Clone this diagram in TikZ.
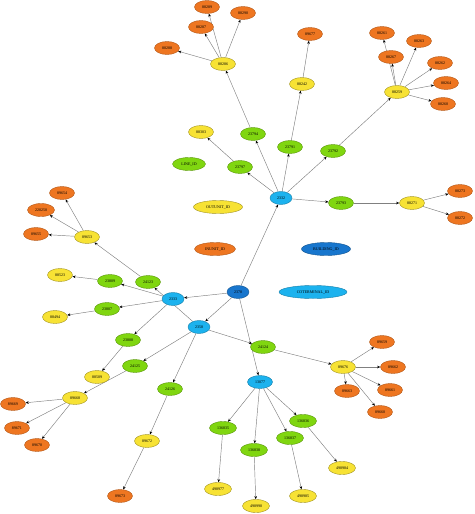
\documentclass[tikz,border=0pt]{standalone}
\usepackage{fontspec}
\setmainfont{Liberation Serif}
\usepackage{tikz}
\usetikzlibrary{arrows.meta,shapes.geometric,backgrounds}
\definecolor{NodeOrange}{RGB}{238,118,33}
\definecolor{NodeYellow}{RGB}{247,226,52}
\definecolor{NodeGreen}{RGB}{128,214,16}
\definecolor{NodeCyan}{RGB}{28,178,238}
\definecolor{NodeBlue}{RGB}{24,118,205}
\definecolor{EdgeGray}{RGB}{128,128,128}

\begin{document}
\begin{tikzpicture}[x=1pt, y=-1pt,
  nd/.style={ellipse, draw, inner sep=0pt, minimum width=25pt, minimum height=13pt,
    line width=0.4pt, font=\fontsize{4}{4}\selectfont},
  org/.style={nd, fill=NodeOrange, draw=NodeOrange!75!black},
  yel/.style={nd, fill=NodeYellow, draw=NodeYellow!65!black},
  grn/.style={nd, fill=NodeGreen, draw=NodeGreen!70!black},
  cyn/.style={nd, fill=NodeCyan, draw=NodeCyan!70!black},
  dblu/.style={nd, fill=NodeBlue, draw=NodeBlue!70!black},
  link/.style={draw=EdgeGray, line width=0.45pt, -{Stealth[length=3.2pt,width=2.6pt,black]}}]
\useasboundingbox (0,0) rectangle (474,514);
% Legend ids
\node[grn, minimum width=33pt] (nLINE) at (189,164) {LINE\_ID};
\node[yel, minimum width=49pt] (nOUTUNIT) at (218,207) {OUTUNIT\_ID};
\node[org, minimum width=41pt] (nINUNIT) at (215,249) {INUNIT\_ID};
\node[dblu, minimum width=49pt] (nBUILDING) at (326,249) {BUILDING\_ID};
\node[cyn, minimum width=68pt] (nCOTERM) at (313,292) {COTERMINAL\_ID};
% Upper branch
\node[org] (n88289) at (207,7) {88289};
\node[org] (n88290) at (243,13) {88290};
\node[org] (n88287) at (201,27) {88287};
\node[org] (n88288) at (167,48) {88288};
\node[yel] (n88286) at (223,64) {88286};
\node[org] (n89677) at (310,34) {89677};
\node[yel] (n88242) at (302,84) {88242};
\node[org] (n88261) at (382,33) {88261};
\node[org] (n88267) at (391,57) {88267};
\node[org] (n88263) at (419,41) {88263};
\node[org] (n88262) at (440,63) {88262};
\node[org] (n88264) at (446,83) {88264};
\node[org] (n88260) at (443,104) {88260};
\node[yel] (n88259) at (397,92) {88259};
\node[yel] (n88303) at (201,132) {88303};
\node[grn] (n23794) at (253,134) {23794};
\node[grn] (n23791) at (290,147) {23791};
\node[grn] (n23792) at (333,151) {23792};
\node[grn] (n23797) at (240,167) {23797};
\node[cyn, minimum width=22pt] (n2332) at (281,198) {2332};
\node[grn] (n23793) at (341,203) {23793};
\node[yel] (n88271) at (412,203) {88271};
\node[org] (n88273) at (460,191) {88273};
\node[org] (n88272) at (460,218) {88272};
% Left branch
\node[org] (n89654) at (62,193) {89654};
\node[org, minimum width=27pt] (n220250) at (41,210) {220250};
\node[org] (n89655) at (36,234) {89655};
\node[yel] (n89653) at (87,237) {89653};
\node[yel] (n88523) at (60,275) {88523};
\node[grn] (n23809) at (110,281) {23809};
\node[grn] (n24123) at (148,282) {24123};
\node[grn] (n23807) at (107,309) {23807};
\node[yel] (n88494) at (55,317) {88494};
\node[dblu, minimum width=22pt] (n2378) at (238,292) {2378};
\node[cyn, minimum width=22pt] (n2333) at (173,299) {2333};
\node[cyn, minimum width=22pt] (n2358) at (199,327) {2358};
% Lower branch
\node[grn] (n23808) at (128,340) {23808};
\node[grn] (n24124) at (263,347) {24124};
\node[grn] (n24125) at (135,366) {24125};
\node[yel] (n88509) at (97,377) {88509};
\node[yel] (n89668) at (75,398) {89668};
\node[org] (n89669) at (13,404) {89669};
\node[org] (n89671) at (17,428) {89671};
\node[org] (n89670) at (37,445) {89670};
\node[grn] (n24126) at (170,389) {24126};
\node[yel] (n89672) at (147,441) {89672};
\node[org] (n89673) at (120,496) {89673};
\node[yel] (n89676) at (343,367) {89676};
\node[org] (n89659) at (382,342) {89659};
\node[org] (n89662) at (393,367) {89662};
\node[org] (n89663) at (347,391) {89663};
\node[org] (n89661) at (390,390) {89661};
\node[org] (n89660) at (380,412) {89660};
\node[cyn] (n13077) at (260,382) {13077};
\node[grn, minimum width=27pt] (n136835) at (223,428) {136835};
\node[grn, minimum width=27pt] (n136836) at (303,421) {136836};
\node[grn, minimum width=27pt] (n136837) at (290,438) {136837};
\node[grn, minimum width=27pt] (n136838) at (254,450) {136838};
\node[yel, minimum width=27pt] (n498977) at (218,489) {498977};
\node[yel, minimum width=27pt] (n498990) at (256,506) {498990};
\node[yel, minimum width=27pt] (n498985) at (303,496) {498985};
\node[yel, minimum width=27pt] (n498984) at (342,468) {498984};
% Edges
\begin{scope}[on background layer]
\draw[link] (n88286) -- (n88289); \draw[link] (n88286) -- (n88290);
\draw[link] (n88286) -- (n88287); \draw[link] (n88286) -- (n88288);
\draw[link] (n23794) -- (n88286);
\draw[link] (n88242) -- (n89677); \draw[link] (n23791) -- (n88242);
\draw[link] (n88259) -- (n88261); \draw[link] (n88259) -- (n88267);
\draw[link] (n88259) -- (n88263); \draw[link] (n88259) -- (n88262);
\draw[link] (n88259) -- (n88264); \draw[link] (n88259) -- (n88260);
\draw[link] (n23792) -- (n88259);
\draw[link] (n2332) -- (n23794); \draw[link] (n2332) -- (n23791);
\draw[link] (n2332) -- (n23792); \draw[link] (n2332) -- (n23797);
\draw[link] (n2332) -- (n23793);
\draw[link] (n23797) -- (n88303);
\draw[link] (n23793) -- (n88271);
\draw[link] (n88271) -- (n88273); \draw[link] (n88271) -- (n88272);
\draw[link] (n2378) -- (n2332); \draw[link] (n2378) -- (n2333);
\draw[link] (n2378) -- (n2358); \draw[link] (n2378) -- (n13077);
\draw[link] (n89653) -- (n89654); \draw[link] (n89653) -- (n220250);
\draw[link] (n89653) -- (n89655);
\draw[link] (n24123) -- (n89653);
\draw[link] (n2333) -- (n23809); \draw[link] (n2333) -- (n23807);
\draw[link] (n2333) -- (n23808);
\draw[link] (n23809) -- (n88523); \draw[link] (n23807) -- (n88494);
\draw[link] (n2358) -- (n24123); \draw[link] (n2358) -- (n24125);
\draw[link] (n2358) -- (n24126); \draw[link] (n2358) -- (n24124);
\draw[link] (n23808) -- (n88509); \draw[link] (n24125) -- (n89668);
\draw[link] (n89668) -- (n89669); \draw[link] (n89668) -- (n89671);
\draw[link] (n89668) -- (n89670);
\draw[link] (n24126) -- (n89672); \draw[link] (n89672) -- (n89673);
\draw[link] (n24124) -- (n89676);
\draw[link] (n89676) -- (n89659); \draw[link] (n89676) -- (n89662);
\draw[link] (n89676) -- (n89663); \draw[link] (n89676) -- (n89661);
\draw[link] (n89676) -- (n89660);
\draw[link] (n13077) -- (n136835); \draw[link] (n13077) -- (n136838);
\draw[link] (n13077) -- (n136837); \draw[link] (n13077) -- (n136836);
\draw[link] (n136835) -- (n498977); \draw[link] (n136838) -- (n498990);
\draw[link] (n136837) -- (n498985); \draw[link] (n136836) -- (n498984);
\end{scope}
\end{tikzpicture}
\end{document}
